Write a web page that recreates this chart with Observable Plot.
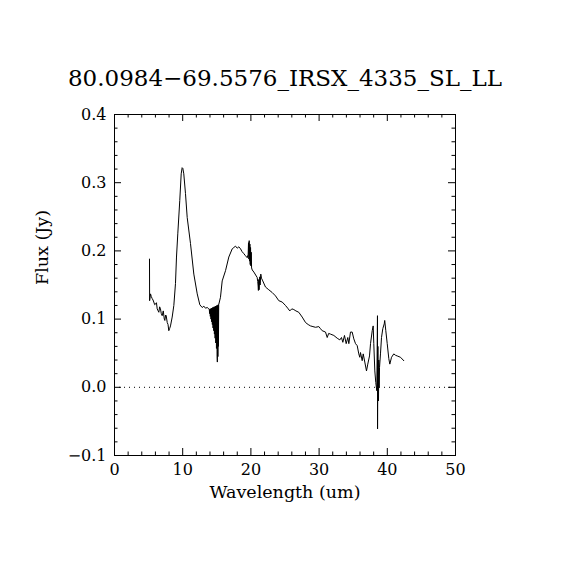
<!DOCTYPE html>
<html>
<head>
<meta charset="utf-8">
<script src="https://cdn.jsdelivr.net/npm/d3@7"></script>
<script src="https://cdn.jsdelivr.net/npm/@observablehq/plot@0.6"></script>
<style>
  html, body { margin: 0; padding: 0; background: #fff; }
  #chart { width: 570px; height: 570px; }
</style>
</head>
<body>
<div id="chart"></div>
<script>
const titleText = "80.0984\u221269.5576_IRSX_4335_SL_LL";
const xLabel = "Wavelength (um)";
const yLabel = "Flux (Jy)";

const xMajor = [0, 10, 20, 30, 40, 50];
const xMinor = [2, 4, 6, 8, 12, 14, 16, 18, 22, 24, 26, 28, 32, 34, 36, 38, 42, 44, 46, 48];
const yMajor = [-0.1, 0.0, 0.1, 0.2, 0.3, 0.4];
const yMinor = [-0.08, -0.06, -0.04, -0.02, 0.02, 0.04, 0.06, 0.08, 0.12, 0.14, 0.16, 0.18,
                0.22, 0.24, 0.26, 0.28, 0.32, 0.34, 0.36, 0.38];

// Spectrum: wavelength (um) and flux (Jy)
const wavelength = [
  5.13, 5.15, 5.28, 5.40, 5.53, 5.65, 5.76, 5.90, 6.01, 6.15, 6.26, 6.40, 6.50, 6.62, 6.74, 6.86, 6.99, 7.15, 7.30, 7.38, 7.50, 7.58, 7.73, 7.85, 7.96, 8.08, 8.21, 8.46, 8.70, 8.94, 9.09,
  9.28, 9.57, 9.78, 9.92, 10.02, 10.16, 10.41, 10.66, 11.14, 11.63, 12.13, 12.51, 12.86, 13.10, 13.34, 13.60, 13.83,
  13.90, 13.95, 14.00, 14.05, 14.10, 14.15, 14.20, 14.25, 14.30, 14.35, 14.40, 14.45, 14.50, 14.55, 14.60, 14.65, 14.70, 14.75, 14.80, 14.85, 14.90, 14.95, 15.00, 15.05, 15.08, 15.12, 15.16, 15.20, 15.24, 15.28, 15.30,
  15.54, 15.79, 16.28, 16.76, 17.26, 17.50, 17.74, 18.00, 18.23, 18.48, 18.70, 18.96, 19.20, 19.46,
  19.60, 19.65, 19.70, 19.75, 19.80, 19.85, 19.90, 19.95, 20.00, 20.05, 20.10, 20.20,
  20.43, 20.92, 21.00, 21.05, 21.10, 21.15, 21.20, 21.30, 21.35, 21.45, 21.55, 21.74,
  22.14, 22.62, 23.12, 23.61, 24.09, 24.59, 25.07, 25.40, 25.70, 26.00, 26.29, 26.60, 27.02, 27.52, 28.01, 28.40, 28.74, 29.10, 29.47, 29.96, 30.20, 30.45, 30.94, 31.19, 31.40, 31.67,
  32.16, 32.65, 33.04, 33.28, 33.48, 33.72, 33.97, 34.21, 34.36, 34.60, 34.85, 35.09, 35.34, 35.59, 35.82, 35.97, 36.07, 36.32, 36.47, 36.70, 36.95, 37.14, 37.39, 37.54, 37.79, 37.93, 38.02, 38.17, 38.31, 38.46,
  38.56, 38.57, 38.62, 38.66, 38.71, 38.75, 38.80, 38.86, 39.00, 39.15, 39.34, 39.55, 39.62, 39.78, 39.99, 40.22, 40.37, 40.62, 40.95, 41.20, 41.45, 41.94, 42.42
];
const flux = [
  0.188, 0.127, 0.137, 0.133, 0.130, 0.128, 0.125, 0.121, 0.122, 0.124, 0.115, 0.112, 0.110, 0.118, 0.115, 0.108, 0.105, 0.112, 0.100, 0.098, 0.106, 0.105, 0.095, 0.092, 0.083, 0.086, 0.090, 0.103, 0.120, 0.152, 0.191,
  0.225, 0.274, 0.313, 0.322, 0.321, 0.313, 0.284, 0.249, 0.211, 0.166, 0.137, 0.121, 0.117, 0.119, 0.116, 0.117, 0.115,
  0.114, 0.108, 0.115, 0.104, 0.115, 0.100, 0.116, 0.096, 0.116, 0.092, 0.117, 0.087, 0.117, 0.083, 0.118, 0.078, 0.118, 0.072, 0.119, 0.065, 0.119, 0.057, 0.120, 0.045, 0.037, 0.120, 0.045, 0.121, 0.060, 0.122, 0.122,
  0.132, 0.156, 0.171, 0.191, 0.203, 0.205, 0.207, 0.204, 0.206, 0.203, 0.199, 0.196, 0.193, 0.190,
  0.195, 0.212, 0.188, 0.215, 0.185, 0.210, 0.180, 0.205, 0.178, 0.198, 0.175, 0.172,
  0.169, 0.161, 0.155, 0.150, 0.142, 0.158, 0.143, 0.162, 0.150, 0.166, 0.160, 0.156,
  0.147, 0.143, 0.139, 0.134, 0.127, 0.125, 0.120, 0.116, 0.112, 0.115, 0.114, 0.112, 0.110, 0.103, 0.095, 0.092, 0.090, 0.089, 0.088, 0.089, 0.086, 0.083, 0.081, 0.073, 0.079, 0.078,
  0.076, 0.072, 0.0695, 0.073, 0.066, 0.076, 0.064, 0.073, 0.064, 0.081, 0.081, 0.071, 0.064, 0.061, 0.049, 0.044, 0.051, 0.039, 0.049, 0.037, 0.024, 0.034, 0.046, 0.064, 0.083, 0.090, 0.064, 0.024, 0.007, -0.005,
  0.105, -0.061, 0.060, -0.010, -0.020, 0.040, 0.000, 0.029, 0.049, 0.073, 0.086, 0.093, 0.098, 0.083, 0.064, 0.042, 0.034, 0.044, 0.049, 0.047, 0.046, 0.044, 0.039
];

const spectrum = wavelength.map((w, i) => ({w, f: flux[i]}));

const W = 570, H = 570;
const mL = 114, mR = 115, mT = 114, mB = 115;
const innerW = W - mL - mR;
const innerH = H - mT - mB;
const majorLen = 7, minorLen = 3.5;
const font = "DejaVu Serif";

const chart = Plot.plot({
  width: W,
  height: H,
  marginLeft: mL,
  marginRight: mR,
  marginTop: mT,
  marginBottom: mB,
  x: {domain: [0, 50]},
  y: {domain: [-0.1, 0.4]},
  style: {fontFamily: font, background: "white", color: "black", overflow: "visible"},
  marks: [
    Plot.ruleY([0], {stroke: "black", strokeWidth: 1, strokeDasharray: "1,4"}),
    Plot.line(spectrum, {x: "w", y: "f", stroke: "black", strokeWidth: 1}),
    Plot.frame({stroke: "black", strokeWidth: 1}),
    // inward ticks, bottom & top
    Plot.tickX(xMajor, {x: d => d, stroke: "black", insetTop: innerH - majorLen}),
    Plot.tickX(xMajor, {x: d => d, stroke: "black", insetBottom: innerH - majorLen}),
    Plot.tickX(xMinor, {x: d => d, stroke: "black", insetTop: innerH - minorLen}),
    Plot.tickX(xMinor, {x: d => d, stroke: "black", insetBottom: innerH - minorLen}),
    // inward ticks, left & right
    Plot.tickY(yMajor, {y: d => d, stroke: "black", insetRight: innerW - majorLen}),
    Plot.tickY(yMajor, {y: d => d, stroke: "black", insetLeft: innerW - majorLen}),
    Plot.tickY(yMinor, {y: d => d, stroke: "black", insetRight: innerW - minorLen}),
    Plot.tickY(yMinor, {y: d => d, stroke: "black", insetLeft: innerW - minorLen}),
    // tick labels
    Plot.axisX({ticks: xMajor, anchor: "bottom", tickSize: 0, tickPadding: 8, tickFormat: d3.format("d"), fontSize: 16, label: null}),
    Plot.axisY({ticks: yMajor, anchor: "left", tickSize: 0, tickPadding: 8, tickFormat: d3.format(".1f"), fontSize: 16, label: null}),
    // titles
    Plot.text([titleText], {frameAnchor: "top", lineAnchor: "bottom", dy: -29, fontSize: 23, fill: "black"}),
    Plot.text([xLabel], {frameAnchor: "bottom", lineAnchor: "bottom", dy: 42, fontSize: 17.5, fill: "black"}),
    Plot.text([yLabel], {frameAnchor: "left", rotate: -90, dx: -72, fontSize: 17.5, fill: "black"})
  ]
});

document.getElementById("chart").appendChild(chart);
</script>
</body>
</html>
